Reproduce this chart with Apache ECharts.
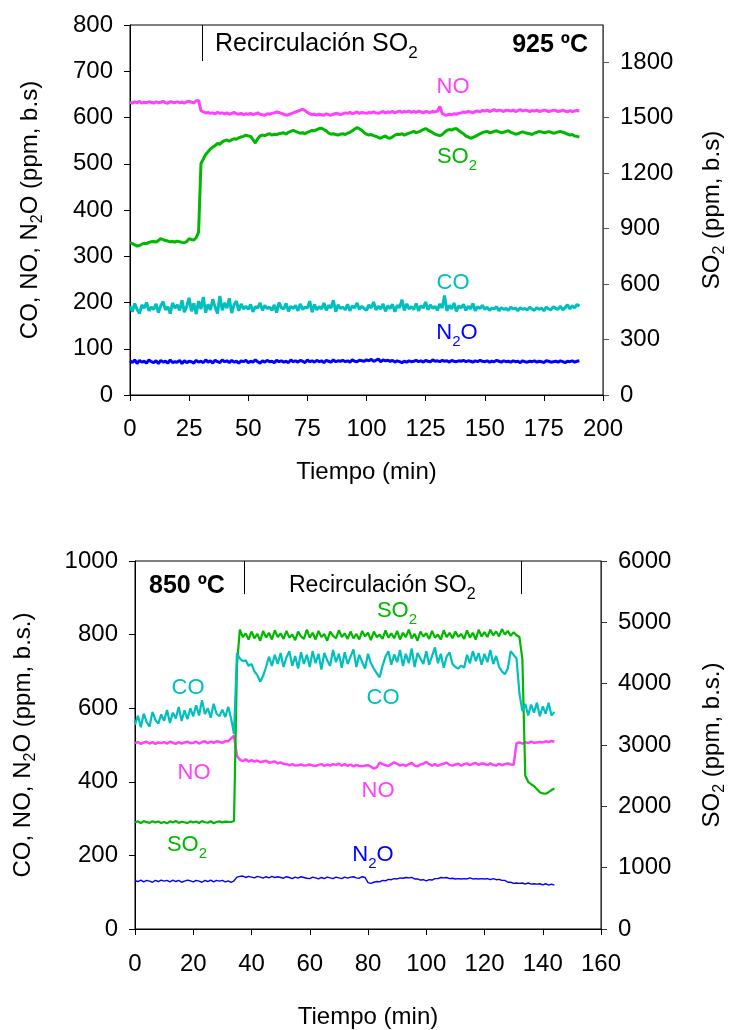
<!DOCTYPE html>
<html><head><meta charset="utf-8">
<script src="https://cdn.jsdelivr.net/npm/echarts@6/dist/echarts.min.js"></script>
<style>html,body{margin:0;padding:0;background:#fff}#c{width:736px;height:1030px}</style>
</head><body><div id="c"></div>
<script>
const FONT = '"Liberation Sans", Arial, Helvetica, sans-serif';

// ---------- Panel 1: 925 ºC (one sample per minute, t = 0..190) ----------
const TOP_STEP_MIN = 1;
const TOP_X = {min: 0, max: 200, interval: 25};
const TOP_Y_LEFT = {min: 0, max: 800, interval: 100};
const TOP_Y_RIGHT = {min: 0, max: 2000, interval: 300};
const TOP_SWITCH_MIN = 30.7;       // start of SO2 recirculation
const TOP_MARK_Y = [800, 722];

const TOP_NO = [
633,631,634,632,635,631,633,632,634,633,
631,634,632,633,635,632,631,634,633,632,
634,632,633,631,634,635,633,632,636,637,
615,612,610,611,609,610,608,611,609,610,
608,610,607,609,611,608,607,609,606,608,
607,609,606,608,610,607,606,605,608,607,
609,610,612,611,609,607,605,606,608,610,
612,614,616,618,615,611,608,606,607,605,
607,606,605,608,606,605,607,609,608,606,
608,610,609,611,608,610,612,609,611,610,
609,611,610,612,610,609,611,613,610,612,
611,613,610,612,614,611,613,612,614,611,
613,611,614,612,610,613,612,611,613,612,
614,624,609,606,605,607,606,608,607,609,
610,612,611,613,612,610,613,614,612,615,
614,616,613,615,617,614,616,615,613,616,
615,614,616,613,615,617,614,616,615,613,
615,614,616,613,614,616,615,613,614,616,
615,613,614,616,614,612,615,613,614,615,
614];
const TOP_SO2 = [
823,818,812,805,808,815,820,818,825,828,
830,826,835,845,840,835,832,828,830,827,
832,828,825,823,830,845,840,838,850,880,
1250,1275,1300,1315,1330,1340,1348,1360,1355,1368,
1375,1378,1372,1380,1385,1382,1390,1395,1398,1405,
1400,1398,1380,1362,1385,1400,1405,1402,1408,1412,
1405,1410,1408,1412,1415,1418,1410,1420,1425,1430,
1425,1420,1415,1418,1412,1420,1425,1430,1428,1435,
1440,1442,1435,1428,1415,1410,1412,1408,1405,1410,
1412,1408,1415,1420,1428,1438,1445,1440,1430,1418,
1410,1405,1408,1402,1398,1392,1388,1395,1400,1390,
1388,1395,1405,1410,1408,1412,1405,1410,1415,1420,
1425,1418,1422,1428,1435,1440,1432,1425,1418,1410,
1405,1402,1408,1420,1430,1435,1432,1438,1440,1430,
1420,1412,1400,1395,1388,1392,1398,1405,1412,1418,
1422,1425,1418,1420,1425,1428,1422,1418,1420,1425,
1428,1420,1415,1410,1412,1418,1422,1418,1415,1412,
1408,1415,1420,1425,1422,1418,1420,1424,1420,1415,
1418,1422,1425,1420,1416,1410,1405,1408,1400,1398,
1395];
const TOP_CO = [
192,180,198,185,176,195,188,200,182,190,
185,197,178,193,202,184,191,176,199,188,
195,183,205,179,192,210,181,198,175,203,
186,212,178,196,184,207,190,176,214,183,
199,188,209,177,195,203,182,197,186,192,
185,196,180,191,188,199,183,194,187,190,
183,195,178,200,189,186,198,181,192,187,
194,182,197,185,190,188,203,179,196,184,
191,186,199,183,194,188,205,180,195,187,
190,184,196,182,193,188,199,185,192,187,
183,195,188,201,184,192,186,197,181,193,
187,196,180,194,189,206,183,197,186,191,
185,198,182,193,188,201,184,195,187,192,
183,197,188,215,182,194,186,199,181,193,
188,196,183,192,186,198,182,191,187,194,
185,190,183,188,186,191,182,189,185,187,
183,190,186,188,182,189,185,187,184,190,
186,183,189,185,188,182,190,186,184,191,
187,185,192,184,189,195,186,193,188,196,
192];
const TOP_N2O = [
74,70,76,68,75,71,73,69,76,72,
70,74,68,75,71,73,69,76,70,72,
71,75,68,74,70,73,72,69,75,71,
73,70,76,71,74,69,75,72,70,76,
72,74,70,75,71,73,69,74,72,75,
70,73,71,76,72,69,74,71,75,72,
73,70,75,72,74,71,73,70,76,72,
74,71,75,73,70,76,72,74,71,75,
72,74,70,75,73,71,76,72,74,73,
75,72,74,71,76,73,72,75,74,73,
76,74,77,73,75,78,72,76,74,75,
73,75,71,74,72,70,73,71,74,72,
73,75,72,74,71,75,73,72,76,73,
74,72,75,73,74,71,75,73,72,74,
73,75,72,74,73,71,74,72,75,73,
72,74,71,73,72,75,73,71,74,72,
73,71,74,72,73,70,74,72,71,73,
72,74,71,73,72,70,74,73,71,72,
73,71,74,72,70,73,72,74,71,73,
74];

// ---------- Panel 2: 850 ºC (one sample per minute, t = 0..144) ----------
const BOT_STEP_MIN = 1;
const BOT_X = {min: 0, max: 160, interval: 20};
const BOT_Y_LEFT = {min: 0, max: 1000, interval: 200};
const BOT_Y_RIGHT = {min: 0, max: 6000, interval: 1000};
const BOT_SWITCH_MIN = [37.6, 132.7]; // start / end of SO2 recirculation
const BOT_MARK_Y = [1000, 910];

const BOT_CO = [
555,580,548,585,562,550,590,568,558,583,
566,595,560,588,572,603,565,594,570,600,
578,608,580,622,584,600,574,612,585,578,
596,576,604,572,530,750,735,728,730,715,
720,700,690,672,688,712,740,715,745,720,
750,712,738,755,715,742,708,752,720,745,
712,755,722,748,705,750,730,715,758,725,
748,710,752,720,740,760,712,745,725,708,
748,722,708,695,684,715,740,755,718,746,
725,758,715,748,722,762,712,750,735,720,
755,718,742,765,722,748,710,740,752,720,
712,708,716,710,745,722,755,728,750,718,
748,725,758,720,742,712,700,692,708,755,
745,735,640,592,612,580,610,588,615,578,
605,585,615,580,590];
const BOT_NO = [
505,508,503,507,509,504,508,503,507,505,
508,504,509,506,503,508,504,507,509,505,
506,509,504,508,510,505,509,506,510,508,
506,510,510,518,525,470,460,456,461,455,
459,455,458,453,455,457,452,453,455,450,
453,449,448,445,448,444,445,447,444,445,
447,444,443,446,448,443,447,444,448,446,
449,444,448,443,447,442,446,443,442,444,
445,441,436,439,452,448,445,443,448,453,
449,444,447,443,448,451,444,442,447,449,
454,448,444,448,443,447,449,452,446,444,
447,449,444,448,450,445,449,451,446,450,
449,445,450,446,444,449,445,448,450,447,
446,505,507,504,508,505,509,506,507,508,
507,510,508,511,509];
const BOT_SO2 = [
1740,1755,1725,1760,1742,1730,1758,1738,1752,1728,
1745,1722,1756,1735,1762,1730,1748,1740,1726,1755,
1735,1752,1728,1760,1740,1732,1758,1724,1745,1755,
1738,1750,1748,1745,1760,4300,4880,4760,4820,4720,
4850,4740,4810,4700,4860,4750,4830,4720,4870,4760,
4820,4730,4860,4750,4800,4710,4850,4770,4730,4880,
4750,4830,4720,4860,4760,4810,4700,4850,4780,4740,
4870,4760,4820,4730,4850,4740,4810,4720,4860,4770,
4830,4710,4850,4760,4800,4730,4870,4750,4820,4740,
4860,4720,4830,4760,4880,4740,4810,4700,4850,4770,
4820,4730,4860,4750,4800,4720,4870,4760,4830,4740,
4850,4760,4810,4730,4870,4750,4830,4720,4880,4770,
4840,4760,4880,4790,4850,4770,4890,4800,4860,4780,
4840,4790,4760,4400,2500,2400,2360,2330,2280,2230,
2210,2205,2230,2265,2290];
const BOT_N2O = [
131,129,133,128,132,130,127,132,129,133,
130,132,128,133,129,132,127,130,133,131,
128,132,130,127,132,129,133,128,132,130,
132,128,131,127,131,141,143,144,140,143,
141,139,143,141,138,142,139,143,140,142,
140,138,142,140,137,141,138,142,140,138,
137,141,139,136,140,137,141,139,137,141,
139,137,141,138,141,142,139,138,142,140,
126,124,127,129,128,132,131,135,134,137,
136,139,138,140,139,140,136,136,133,134,
131,134,133,137,137,140,139,140,137,138,
136,137,136,137,136,139,136,137,136,137,
136,137,134,137,134,135,132,132,127,127,
124,125,124,125,122,125,122,123,122,123,
120,123,119,122,119];

// ---------- styling ----------
const C_NO = '#FF40FF', C_SO2 = '#00B800', C_CO = '#00BFBF', C_N2O = '#0000FF';

function pts(arr, step) { return arr.map((v, i) => [i * step, v]); }

const sub = {
  a: {fontSize: 24, fontFamily: FONT, color: '#000', lineHeight: 32},
  s: {fontSize: 16, fontFamily: FONT, color: '#000', verticalAlign: 'bottom'}
};

function xAxisCfg(grid, rng, gap, margin) {
  return {
    gridIndex: grid, type: 'value', min: rng.min, max: rng.max, interval: rng.interval,
    axisLine: {show: true, lineStyle: {color: '#000', width: 1}},
    axisTick: {show: true, length: 6, lineStyle: {color: '#000'}},
    axisLabel: {color: '#000', fontSize: 24, fontFamily: FONT, margin: margin, formatter: v => String(v)},
    splitLine: {show: false},
    name: 'Tiempo (min)', nameLocation: 'middle', nameGap: gap,
    nameTextStyle: {color: '#000', fontSize: 24, fontFamily: FONT}
  };
}
function yAxisCfg(grid, rng, pos, name, gap, lineColor) {
  return {
    gridIndex: grid, type: 'value', position: pos, min: rng.min, max: rng.max, interval: rng.interval,
    axisLine: {show: true, onZero: false, lineStyle: {color: lineColor, width: 1}},
    axisTick: {show: true, length: 6, lineStyle: {color: lineColor}},
    axisLabel: {color: '#000', fontSize: 24, fontFamily: FONT, margin: 17,
      showMaxLabel: (rng.max % rng.interval === 0), formatter: v => String(v)},
    splitLine: {show: false},
    name: name, nameLocation: 'middle', nameGap: gap, nameRotate: 90,
    nameTextStyle: {rich: sub}
  };
}
function line(name, data, xi, yi, color, w, extra) {
  return Object.assign({
    name: name, type: 'line', xAxisIndex: xi, yAxisIndex: yi, data: data,
    showSymbol: false, symbol: 'none', silent: true, animation: false,
    lineStyle: {color: color, width: w}, itemStyle: {color: color},
    emphasis: {disabled: true}
  }, extra || {});
}
function vmarks(ts, yTop, yBot) {
  return {
    silent: true, symbol: ['none', 'none'], animation: false,
    label: {show: false},
    lineStyle: {color: '#000', width: 1, type: 'solid'},
    data: ts.map(t => [{coord: [t, yTop]}, {coord: [t, yBot]}])
  };
}
function lab(x, y, text, color, size, bold, align) {
  return {
    type: 'text', x: x, y: y, silent: true,
    style: {
      text: text, fill: color, align: align || 'center', verticalAlign: 'middle',
      font: (bold ? 'bold ' : '') + size + 'px ' + FONT,
      rich: {
        a: {fontSize: size, fontFamily: FONT, fontWeight: bold ? 'bold' : 'normal', lineHeight: size + 10, fill: color},
        s: {fontSize: Math.round(size * 0.68), fontFamily: FONT, verticalAlign: 'bottom', fill: color}
      }
    }
  };
}

const chart = echarts.init(document.getElementById('c'), null, {renderer: 'canvas'});
chart.setOption({
  animation: false,
  backgroundColor: '#fff',
  grid: [
    {left: 130, top: 25, width: 475, height: 370, show: true, borderColor: '#000', borderWidth: 1, backgroundColor: 'transparent'},
    {left: 135, top: 561, width: 478, height: 369, show: true, borderColor: '#000', borderWidth: 1, backgroundColor: 'transparent'}
  ],
  xAxis: [xAxisCfg(0, TOP_X, 65, 22), xAxisCfg(1, BOT_X, 76, 23)],
  yAxis: [
    yAxisCfg(0, TOP_Y_LEFT, 'left', '{a|CO, NO, N}{s|2}{a|O (ppm, b.s)}', 84, '#000'),
    yAxisCfg(0, TOP_Y_RIGHT, 'right', '{a|SO}{s|2}{a| (ppm, b.s)}', 93, '#555'),
    yAxisCfg(1, BOT_Y_LEFT, 'left', '{a|CO, NO, N}{s|2}{a|O (ppm, b.s.)}', 96, '#000'),
    yAxisCfg(1, BOT_Y_RIGHT, 'right', '{a|SO}{s|2}{a| (ppm, b.s.)}', 95, '#333')
  ],
  series: [
    line('N2O', pts(TOP_N2O, TOP_STEP_MIN), 0, 0, C_N2O, 3),
    line('CO', pts(TOP_CO, TOP_STEP_MIN), 0, 0, C_CO, 3),
    line('SO2', pts(TOP_SO2, TOP_STEP_MIN), 0, 1, C_SO2, 3),
    line('NO', pts(TOP_NO, TOP_STEP_MIN), 0, 0, C_NO, 3,
      {markLine: vmarks([TOP_SWITCH_MIN], TOP_MARK_Y[0], TOP_MARK_Y[1])}),
    line('N2O', pts(BOT_N2O, BOT_STEP_MIN), 1, 2, C_N2O, 1.4),
    line('NO', pts(BOT_NO, BOT_STEP_MIN), 1, 2, C_NO, 2.5,
      {markLine: vmarks(BOT_SWITCH_MIN, BOT_MARK_Y[0], BOT_MARK_Y[1])}),
    line('SO2', pts(BOT_SO2, BOT_STEP_MIN), 1, 3, C_SO2, 2.2),
    line('CO', pts(BOT_CO, BOT_STEP_MIN), 1, 2, C_CO, 2.2)
  ],
  graphic: [
    lab(215, 44, '{a|Recirculación SO}{s|2}', '#000', 25, false, 'left'),
    lab(588, 45, '{a|925 ºC}', '#000', 25, true, 'right'),
    lab(453, 87, '{a|NO}', C_NO, 22),
    lab(457, 157, '{a|SO}{s|2}', C_SO2, 22),
    lab(453, 283, '{a|CO}', C_CO, 22),
    lab(457, 333, '{a|N}{s|2}{a|O}', C_N2O, 22),

    lab(149, 586, '{a|850 ºC}', '#000', 25, true, 'left'),
    lab(289, 586, '{a|Recirculación SO}{s|2}', '#000', 23, false, 'left'),
    lab(397, 611, '{a|SO}{s|2}', C_SO2, 22),
    lab(188, 688, '{a|CO}', C_CO, 22),
    lab(383, 698, '{a|CO}', C_CO, 22),
    lab(194, 773, '{a|NO}', C_NO, 22),
    lab(378, 791, '{a|NO}', C_NO, 22),
    lab(187, 845, '{a|SO}{s|2}', C_SO2, 22),
    lab(373, 855, '{a|N}{s|2}{a|O}', C_N2O, 22)
  ]
});
</script>
</body></html>
